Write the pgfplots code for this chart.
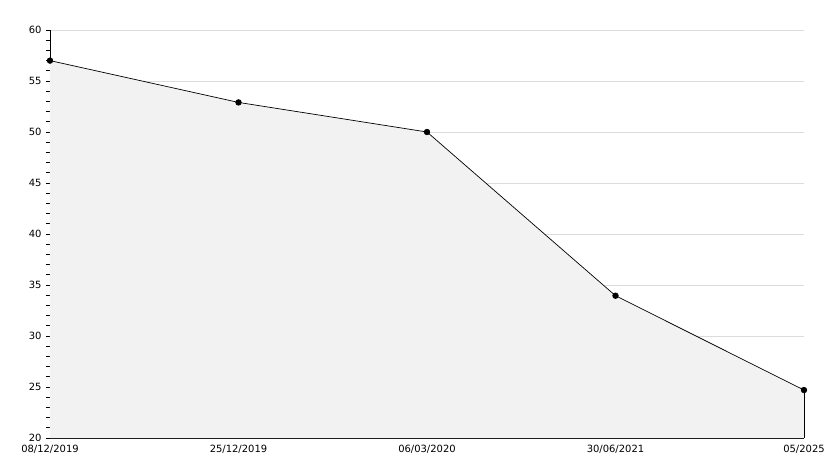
\documentclass[border=0pt]{standalone}
\usepackage{pgfplots}
\pgfplotsset{compat=1.18}
\usepackage{fontspec}
\setmainfont{DejaVu Sans}
\definecolor{areafill}{RGB}{242,242,242}
\definecolor{gridc}{RGB}{220,220,220}
\begin{document}
\begin{tikzpicture}
\begin{axis}[
  scale only axis,
  width=754bp, height=408bp,
  xmin=0, xmax=4, ymin=20, ymax=60,
  axis x line*=bottom, axis y line*=left,
  axis line style={black, line width=0.9bp, -},
  xtick={0,1,2,3,4},
  xticklabels={08/12/2019,25/12/2019,06/03/2020,30/06/2021,05/2025},
  ytick={20,25,...,60},
  minor y tick num=4,
  ymajorgrids,
  major grid style={gridc, line width=0.9bp},
  tick style={black, line width=0.8bp},
  xtick align=inside,
  ytick align=outside,
  major tick length=4bp, minor tick length=4bp,
  tick label style={font=\fontsize{10}{11}\selectfont},
  yticklabel style={xshift=-1bp},
  xticklabel style={yshift=-3.5bp},
  /pgf/number format/assume math mode=true,
  clip=false,
]
\addplot[draw=none, fill=areafill] coordinates {(0,57) (1,52.9) (2,50) (3,33.95) (4,24.7)} \closedcycle;
\draw[black, line width=0.9bp] (axis cs:4,20) -- (axis cs:4,24.7);
\addplot[black, line width=0.7bp, mark=*, mark size=2.8bp] coordinates {(0,57) (1,52.9) (2,50) (3,33.95) (4,24.7)};
\end{axis}
\pgfresetboundingbox
\path[use as bounding box] (current axis.south west) ++(-50bp,-30bp) rectangle ++(834bp,468bp);
\end{tikzpicture}
\end{document}
